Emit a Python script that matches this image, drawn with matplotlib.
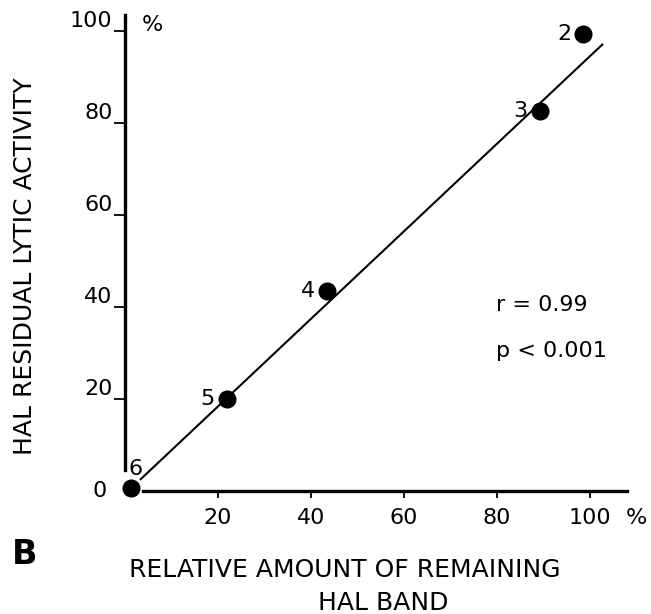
import matplotlib
matplotlib.use("Agg")
import matplotlib.pyplot as plt

# data
point_labels = ["2", "3", "4", "5", "6"]
band_amount = [98.5, 89.2, 43.4, 21.9, 1.2]       # relative amount of remaining HAL band (%)
lytic_activity = [99.3, 82.6, 43.5, 20.0, 0.6]    # HAL residual lytic activity (%)

# regression line as drawn
fit_x = [3.2, 102.8]
fit_y = [2.4, 97.2]

x_ticks = [20, 40, 60, 80, 100]
y_ticks = [20, 40, 60, 80, 100]
r_text = "r = 0.99"
p_text = "p < 0.001"

plt.rcParams['font.family'] = ['DejaVu Sans']

fig = plt.figure(figsize=(6.51, 6.14), dpi=100)
W, H = 651, 614

# axes placed so that data (0,0) sits at px (125,491) and (100,100) at (590,31)
xlim = (-6, 112)
ylim = (-5, 106)
xs, ys = 4.65, 4.6
left_px = 125 + xlim[0] * xs
right_px = 125 + xlim[1] * xs
bot_px = 491 - ylim[0] * ys
top_px = 491 - ylim[1] * ys
ax = fig.add_axes([left_px / W, 1 - bot_px / H, (right_px - left_px) / W, (bot_px - top_px) / H])
ax.set_xlim(*xlim)
ax.set_ylim(*ylim)

for s in ['top', 'right']:
    ax.spines[s].set_visible(False)
ax.spines['left'].set_position(('data', 0))
ax.spines['bottom'].set_position(('data', 0))
ax.spines['left'].set_bounds(4.6, 103.5)
ax.spines['bottom'].set_bounds(3.9, 108)
ax.spines['left'].set_linewidth(2.4)
ax.spines['bottom'].set_linewidth(2.4)

ax.set_xticks(x_ticks)
ax.set_yticks(y_ticks)
ax.set_xticklabels([str(v) for v in x_ticks])
ax.set_yticklabels([str(v) for v in y_ticks])
ax.tick_params(axis='x', direction='out', length=5, width=1.3, pad=7, labelsize=16)
ax.tick_params(axis='y', direction='out', length=8, width=1.3, pad=1, labelsize=16)
for lab in ax.get_yticklabels():
    lab.set_va('bottom')

ax.text(-5.4, 0, "0", ha='center', va='center', fontsize=16)
ax.text(5.8, 101.3, "%", ha='center', va='center', fontsize=16)
ax.text(110, -5.9, "%", ha='center', va='center', fontsize=16)

ax.plot(fit_x, fit_y, color='black', lw=1.5, solid_capstyle='butt')
ax.plot(band_amount, lytic_activity, 'o', color='black', markersize=12, zorder=3)

offsets = {"6": (5, 19)}
for lab, x, y in zip(point_labels, band_amount, lytic_activity):
    dx, dy = offsets.get(lab, (-19, 0))
    ax.annotate(lab, (x, y), xytext=(dx, dy), textcoords='offset pixels',
                ha='center', va='center', fontsize=16)

ax.text(79.8, 40.5, r_text, ha='left', va='center', fontsize=16)
ax.text(79.8, 30.5, p_text, ha='left', va='center', fontsize=16)

fig.text(25 / W, 1 - 266 / H, "HAL RESIDUAL LYTIC ACTIVITY", rotation=90,
         ha='center', va='center', fontsize=18)
fig.text(345 / W, 1 - 570 / H, "RELATIVE AMOUNT OF REMAINING",
         ha='center', va='center', fontsize=18)
fig.text(383 / W, 1 - 603 / H, "HAL BAND", ha='center', va='center', fontsize=18)
fig.text(25 / W, 1 - 555 / H, "B", ha='center', va='center', fontsize=24, fontweight='bold')

fig.savefig("out.png", dpi=100)
